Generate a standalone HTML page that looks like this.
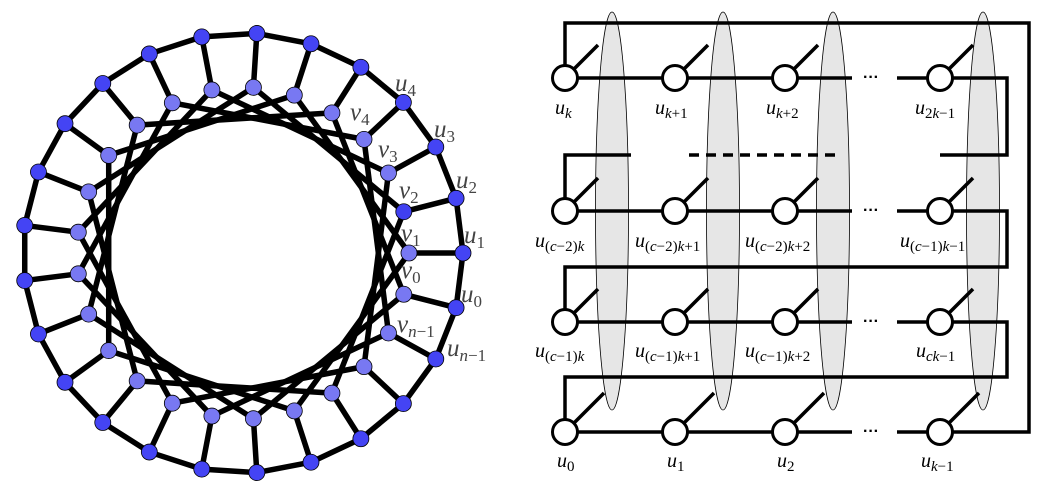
<!DOCTYPE html>
<html><head><meta charset="utf-8"><style>
html,body{margin:0;padding:0;background:#fff;}
svg{display:block;}
</style></head><body>
<svg id="s" width="1046" height="489" viewBox="0 0 1046 489" xmlns="http://www.w3.org/2000/svg">
<g id="left"></g>
<g font-family="Liberation Serif, serif" font-style="italic" fill="#444" font-size="25">
<text x="395" y="91">u<tspan font-size="17" font-style="normal" dy="5">4</tspan></text>
<text x="434" y="137">u<tspan font-size="17" font-style="normal" dy="5">3</tspan></text>
<text x="456" y="188">u<tspan font-size="17" font-style="normal" dy="5">2</tspan></text>
<text x="464" y="243">u<tspan font-size="17" font-style="normal" dy="5">1</tspan></text>
<text x="461" y="302">u<tspan font-size="17" font-style="normal" dy="5">0</tspan></text>
<text x="447" y="356">u<tspan font-size="17" dy="5">n</tspan><tspan font-size="17" font-style="normal">−1</tspan></text>
<text x="350" y="120">v<tspan font-size="17" font-style="normal" dy="5">4</tspan></text>
<text x="378" y="157">v<tspan font-size="17" font-style="normal" dy="5">3</tspan></text>
<text x="399" y="198">v<tspan font-size="17" font-style="normal" dy="5">2</tspan></text>
<text x="401" y="241">v<tspan font-size="17" font-style="normal" dy="5">1</tspan></text>
<text x="401" y="278">v<tspan font-size="17" font-style="normal" dy="5">0</tspan></text>
<text x="397" y="332">v<tspan font-size="17" dy="5">n</tspan><tspan font-size="17" font-style="normal">−1</tspan></text>
</g>
<g fill="#e6e6e6" stroke="#000" stroke-width="0.8">
<ellipse cx="612" cy="211" rx="16.5" ry="199"/>
<ellipse cx="723" cy="211" rx="16.5" ry="199"/>
<ellipse cx="833" cy="211" rx="16.5" ry="199"/>
<ellipse cx="983" cy="211" rx="16.5" ry="199"/>
</g>
<g stroke="#000" stroke-width="3.5" fill="none">
<polyline points="565,78 565,23 1029,23 1029,432 940,432"/>
<line x1="565" y1="78" x2="852" y2="78"/><polyline points="897,78 1007,78 1007,155 940,155"/>
<line x1="565" y1="211" x2="852" y2="211"/><polyline points="897,211 1007,211 1007,267 565,267 565,322"/>
<line x1="565" y1="322" x2="852" y2="322"/><polyline points="897,322 1007,322 1007,377 565,377 565,432"/>
<line x1="565" y1="432" x2="852" y2="432"/><line x1="897" y1="432" x2="940" y2="432"/>
<polyline points="565,211 565,155 631,155"/>
<line x1="689" y1="155" x2="841" y2="155" stroke-dasharray="10,7"/>
<line x1="565" y1="78" x2="598" y2="45"/><line x1="675" y1="78" x2="708" y2="45"/><line x1="785" y1="78" x2="818" y2="45"/><line x1="940" y1="78" x2="973" y2="45"/>
<line x1="565" y1="211" x2="598" y2="178"/><line x1="675" y1="211" x2="708" y2="178"/><line x1="785" y1="211" x2="818" y2="178"/><line x1="940" y1="211" x2="973" y2="178"/>
<line x1="565" y1="322" x2="598" y2="289"/><line x1="675" y1="322" x2="708" y2="289"/><line x1="785" y1="322" x2="818" y2="289"/><line x1="940" y1="322" x2="973" y2="289"/>
<line x1="565" y1="432" x2="604" y2="393"/><line x1="675" y1="432" x2="714" y2="393"/><line x1="785" y1="432" x2="824" y2="393"/><line x1="940" y1="432" x2="979" y2="393"/>
</g>
<g fill="#fff" stroke="#000" stroke-width="3">
<circle cx="565" cy="78" r="12.5"/><circle cx="675" cy="78" r="12.5"/><circle cx="785" cy="78" r="12.5"/><circle cx="940" cy="78" r="12.5"/>
<circle cx="565" cy="211" r="12.5"/><circle cx="675" cy="211" r="12.5"/><circle cx="785" cy="211" r="12.5"/><circle cx="940" cy="211" r="12.5"/>
<circle cx="565" cy="322" r="12.5"/><circle cx="675" cy="322" r="12.5"/><circle cx="785" cy="322" r="12.5"/><circle cx="940" cy="322" r="12.5"/>
<circle cx="565" cy="432" r="12.5"/><circle cx="675" cy="432" r="12.5"/><circle cx="785" cy="432" r="12.5"/><circle cx="940" cy="432" r="12.5"/>
</g>
<g font-family="Liberation Sans, sans-serif" font-size="16" font-weight="bold" fill="#000">
<text x="863" y="82">···</text><text x="863" y="215">···</text><text x="863" y="326">···</text><text x="863" y="436">···</text>
</g>
<g font-family="Liberation Serif, serif" font-style="italic" fill="#000" font-size="20">
<text x="555" y="114">u<tspan font-size="15" dy="4">k</tspan></text>
<text x="655" y="114">u<tspan font-size="15" dy="4">k</tspan><tspan font-size="15" font-style="normal">+1</tspan></text>
<text x="766" y="114">u<tspan font-size="15" dy="4">k</tspan><tspan font-size="15" font-style="normal">+2</tspan></text>
<text x="915" y="114">u<tspan font-size="15" font-style="normal" dy="4">2</tspan><tspan font-size="15">k</tspan><tspan font-size="15" font-style="normal">−1</tspan></text>
<text x="535" y="247">u<tspan font-size="15" font-style="normal" dy="4">(</tspan><tspan font-size="15">c</tspan><tspan font-size="15" font-style="normal">−2)</tspan><tspan font-size="15">k</tspan></text>
<text x="635" y="247">u<tspan font-size="15" font-style="normal" dy="4">(</tspan><tspan font-size="15">c</tspan><tspan font-size="15" font-style="normal">−2)</tspan><tspan font-size="15">k</tspan><tspan font-size="15" font-style="normal">+1</tspan></text>
<text x="745" y="247">u<tspan font-size="15" font-style="normal" dy="4">(</tspan><tspan font-size="15">c</tspan><tspan font-size="15" font-style="normal">−2)</tspan><tspan font-size="15">k</tspan><tspan font-size="15" font-style="normal">+2</tspan></text>
<text x="900" y="247">u<tspan font-size="15" font-style="normal" dy="4">(</tspan><tspan font-size="15">c</tspan><tspan font-size="15" font-style="normal">−1)</tspan><tspan font-size="15">k</tspan><tspan font-size="15" font-style="normal">−1</tspan></text>
<text x="535" y="357">u<tspan font-size="15" font-style="normal" dy="4">(</tspan><tspan font-size="15">c</tspan><tspan font-size="15" font-style="normal">−1)</tspan><tspan font-size="15">k</tspan></text>
<text x="635" y="357">u<tspan font-size="15" font-style="normal" dy="4">(</tspan><tspan font-size="15">c</tspan><tspan font-size="15" font-style="normal">−1)</tspan><tspan font-size="15">k</tspan><tspan font-size="15" font-style="normal">+1</tspan></text>
<text x="745" y="357">u<tspan font-size="15" font-style="normal" dy="4">(</tspan><tspan font-size="15">c</tspan><tspan font-size="15" font-style="normal">−1)</tspan><tspan font-size="15">k</tspan><tspan font-size="15" font-style="normal">+2</tspan></text>
<text x="916" y="357">u<tspan font-size="15" dy="4">ck</tspan><tspan font-size="15" font-style="normal">−1</tspan></text>
<text x="557" y="467">u<tspan font-size="15" font-style="normal" dy="4">0</tspan></text>
<text x="667" y="467">u<tspan font-size="15" font-style="normal" dy="4">1</tspan></text>
<text x="777" y="467">u<tspan font-size="15" font-style="normal" dy="4">2</tspan></text>
<text x="921" y="467">u<tspan font-size="15" dy="4">k</tspan><tspan font-size="15" font-style="normal">−1</tspan></text>
</g>
</svg>
<script>
(function(){
var g=document.getElementById('left'),NS='http://www.w3.org/2000/svg';
var n=25,cx=243,cy=253,R=220,r=166,k=5,U=[],V=[];
for(var i=0;i<n;i++){var t=(i-1)*2*Math.PI/n;U.push([cx+R*Math.cos(t),cy-R*Math.sin(t)]);V.push([cx+r*Math.cos(t),cy-r*Math.sin(t)]);}
function ln(a,b){var e=document.createElementNS(NS,'line');e.setAttribute('x1',a[0]);e.setAttribute('y1',a[1]);e.setAttribute('x2',b[0]);e.setAttribute('y2',b[1]);e.setAttribute('stroke','#000');e.setAttribute('stroke-width','5.5');e.setAttribute('stroke-linecap','round');g.appendChild(e);}
function c(p,f){var e=document.createElementNS(NS,'circle');e.setAttribute('cx',p[0]);e.setAttribute('cy',p[1]);e.setAttribute('r','8');e.setAttribute('fill',f);e.setAttribute('stroke','#000');e.setAttribute('stroke-width','0.8');g.appendChild(e);}
for(var i=0;i<n;i++){ln(V[i],V[(i+k)%n]);ln(U[i],U[(i+1)%n]);ln(U[i],V[i]);}
for(var i=0;i<n;i++){c(V[i],i==2?'#4040f0':'#7878f2');c(U[i],'#4444f4');}
})();
</script>
</body></html>
